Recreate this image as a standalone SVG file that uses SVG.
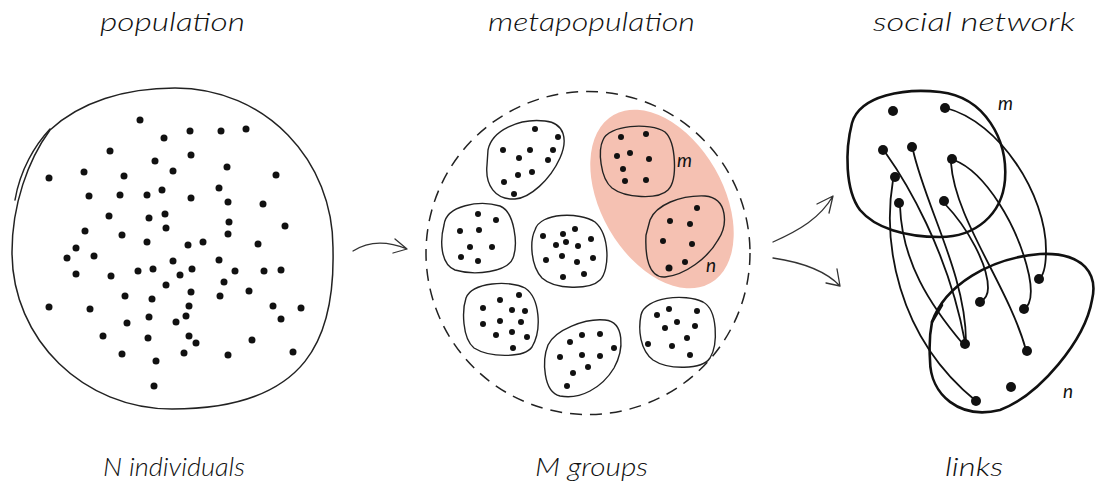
<svg xmlns="http://www.w3.org/2000/svg" width="1095" height="485" viewBox="0 0 1095 485">
<style>
.lbl{font-family:"Lato","Liberation Sans","DejaVu Sans",sans-serif;font-style:italic;font-weight:300;font-size:26px;fill:#111}
.sm{font-family:"Lato","Liberation Sans","DejaVu Sans",sans-serif;font-style:italic;font-weight:400;font-size:19px;fill:#111}
.pd circle{fill:#111}
.gd circle{fill:#111}
.nd circle{fill:#111}
.outline{fill:none;stroke:#222;stroke-width:1.5;stroke-linecap:round;stroke-linejoin:round}
.grp{fill:none;stroke:#222;stroke-width:1.4;stroke-linecap:round}
.net{fill:none;stroke:#111;stroke-width:2.6;stroke-linecap:round}
.link{fill:none;stroke:#111;stroke-width:1.8;stroke-linecap:round}
.arr{fill:none;stroke:#333;stroke-width:1.3;stroke-linecap:round;stroke-linejoin:round}
</style>
<rect width="1095" height="485" fill="#fff"/>

<g id="titles">
<text class="lbl" x="100" y="31" textLength="145" lengthAdjust="spacingAndGlyphs">population</text>
<text class="lbl" x="488" y="31" textLength="207" lengthAdjust="spacingAndGlyphs">metapopulation</text>
<text class="lbl" x="873" y="31" textLength="202" lengthAdjust="spacingAndGlyphs">social network</text>
<text class="lbl" x="103" y="476" textLength="142" lengthAdjust="spacingAndGlyphs">N individuals</text>
<text class="lbl" x="535" y="476" textLength="113" lengthAdjust="spacingAndGlyphs">M groups</text>
<text class="lbl" x="945" y="476" textLength="58" lengthAdjust="spacingAndGlyphs">links</text>
</g>

<g id="population">
<path class="outline" d="M50,130 C80,102 125,88 175,88 C265,88 334,160 333,250 C335,335 310,409 172,409 C84,409 12,340 12,252 C12,205 28,160 50,130"/>
<path class="outline" d="M15,200 C20,170 35,145 50,129"/>
<g class="pd">
<circle cx="140" cy="120" r="3.5"/><circle cx="164" cy="138" r="3.5"/><circle cx="190" cy="131" r="3.5"/><circle cx="221" cy="131" r="3.5"/><circle cx="246" cy="129" r="3.5"/>
<circle cx="110" cy="151" r="3.5"/><circle cx="155" cy="161" r="3.5"/><circle cx="191" cy="155" r="3.5"/><circle cx="49" cy="178" r="3.5"/><circle cx="84" cy="172" r="3.5"/>
<circle cx="124" cy="176" r="3.5"/><circle cx="173" cy="171" r="3.5"/><circle cx="227" cy="167" r="3.5"/><circle cx="276" cy="175" r="3.5"/><circle cx="89" cy="196" r="3.5"/>
<circle cx="120" cy="195" r="3.5"/><circle cx="147" cy="195" r="3.5"/><circle cx="162" cy="190" r="3.5"/><circle cx="191" cy="198" r="3.5"/><circle cx="219" cy="188" r="3.5"/>
<circle cx="228" cy="202" r="3.5"/><circle cx="263" cy="204" r="3.5"/><circle cx="109" cy="216" r="3.5"/><circle cx="149" cy="218" r="3.5"/><circle cx="165" cy="214" r="3.5"/>
<circle cx="85" cy="231" r="3.5"/><circle cx="122" cy="235" r="3.5"/><circle cx="166" cy="228" r="3.5"/><circle cx="229" cy="222" r="3.5"/><circle cx="285" cy="226" r="3.5"/>
<circle cx="228" cy="234" r="3.5"/><circle cx="76" cy="248" r="3.5"/><circle cx="67" cy="258" r="3.5"/><circle cx="94" cy="256" r="3.5"/><circle cx="147" cy="242" r="3.5"/>
<circle cx="188" cy="245" r="3.5"/><circle cx="203" cy="242" r="3.5"/><circle cx="258" cy="244" r="3.5"/><circle cx="76" cy="274" r="3.5"/><circle cx="111" cy="276" r="3.5"/>
<circle cx="138" cy="271" r="3.5"/><circle cx="153" cy="269" r="3.5"/><circle cx="173" cy="261" r="3.5"/><circle cx="180" cy="275" r="3.5"/><circle cx="192" cy="269" r="3.5"/>
<circle cx="219" cy="260" r="3.5"/><circle cx="235" cy="271" r="3.5"/><circle cx="264" cy="271" r="3.5"/><circle cx="281" cy="270" r="3.5"/><circle cx="166" cy="285" r="3.5"/>
<circle cx="224" cy="282" r="3.5"/><circle cx="125" cy="296" r="3.5"/><circle cx="152" cy="299" r="3.5"/><circle cx="191" cy="292" r="3.5"/><circle cx="220" cy="296" r="3.5"/>
<circle cx="249" cy="291" r="3.5"/><circle cx="49" cy="307" r="3.5"/><circle cx="90" cy="309" r="3.5"/><circle cx="189" cy="306" r="3.5"/><circle cx="273" cy="306" r="3.5"/>
<circle cx="301" cy="308" r="3.5"/><circle cx="281" cy="319" r="3.5"/><circle cx="127" cy="323" r="3.5"/><circle cx="149" cy="317" r="3.5"/><circle cx="176" cy="322" r="3.5"/>
<circle cx="186" cy="316" r="3.5"/><circle cx="103" cy="336" r="3.5"/><circle cx="148" cy="338" r="3.5"/><circle cx="189" cy="336" r="3.5"/><circle cx="196" cy="343" r="3.5"/>
<circle cx="252" cy="340" r="3.5"/><circle cx="122" cy="354" r="3.5"/><circle cx="156" cy="361" r="3.5"/><circle cx="184" cy="353" r="3.5"/><circle cx="228" cy="355" r="3.5"/>
<circle cx="293" cy="352" r="3.5"/><circle cx="154" cy="386" r="3.5"/>
</g>
</g>

<g id="metapopulation">
<ellipse cx="588" cy="253" rx="162" ry="161.5" fill="none" stroke="#222" stroke-width="1.5" stroke-dasharray="12 8"/>
<ellipse id="highlight" cx="662" cy="199" rx="97" ry="61" transform="rotate(60 662 199)" fill="#f5c1b2"/>
<g id="group1">
<path class="grp" d="M488,150 C492,130 520,118 545,121 C565,123 568,140 560,158 C550,180 530,198 515,199 C495,200 485,185 487,165 Z"/>
<g class="gd"><circle cx="535" cy="129" r="3"/><circle cx="558" cy="137" r="3"/><circle cx="503" cy="150" r="3"/><circle cx="530" cy="150" r="3"/><circle cx="553" cy="150" r="3"/><circle cx="519" cy="158" r="3"/><circle cx="548" cy="160" r="3"/><circle cx="518" cy="175" r="3"/><circle cx="532" cy="172" r="3"/><circle cx="504" cy="182" r="3"/><circle cx="514" cy="194" r="3"/></g>
</g>
<g id="group-m">
<path class="grp" d="M603,140 C608,125 650,122 665,132 C676,142 678,180 668,190 C658,200 625,198 612,188 C600,178 598,150 603,140 Z"/>
<g class="gd"><circle cx="621" cy="137" r="3"/><circle cx="646" cy="134" r="3"/><circle cx="617" cy="156" r="3"/><circle cx="630" cy="153" r="3"/><circle cx="649" cy="159" r="3"/><circle cx="623" cy="169" r="3"/><circle cx="625" cy="181" r="3"/><circle cx="646" cy="180" r="3"/></g>
<text class="sm" x="677" y="167">m</text>
</g>
<g id="group-n">
<path class="grp" d="M650,220 C656,205 680,195 705,196 C728,198 728,225 718,240 C708,258 685,275 665,277 C648,278 645,255 646,235 Z"/>
<g class="gd"><circle cx="697" cy="208" r="3"/><circle cx="670" cy="221" r="3"/><circle cx="690" cy="224" r="3"/><circle cx="663" cy="241" r="3"/><circle cx="692" cy="244" r="3"/><circle cx="685" cy="262" r="3"/><circle cx="669" cy="268" r="3.5"/></g>
<text class="sm" x="706" y="272">n</text>
</g>
<g id="group3">
<path class="grp" d="M444,225 C446,205 480,200 500,206 C515,212 518,245 513,258 C508,272 475,276 455,270 C440,264 440,240 444,225 Z"/>
<g class="gd"><circle cx="478" cy="214" r="3"/><circle cx="496" cy="220" r="3"/><circle cx="460" cy="231" r="3"/><circle cx="479" cy="230" r="3"/><circle cx="470" cy="247" r="3"/><circle cx="492" cy="247" r="3"/><circle cx="461" cy="257" r="3"/><circle cx="478" cy="261" r="3"/></g>
</g>
<g id="group4">
<path class="grp" d="M535,230 C540,212 580,212 595,222 C610,235 610,270 600,280 C590,290 555,290 542,278 C530,265 530,240 535,230 Z"/>
<g class="gd"><circle cx="543" cy="236" r="3"/><circle cx="563" cy="234" r="3"/><circle cx="575" cy="229" r="3"/><circle cx="591" cy="239" r="3"/><circle cx="556" cy="245" r="3"/><circle cx="566" cy="242" r="3"/><circle cx="578" cy="246" r="3"/><circle cx="546" cy="260" r="3"/><circle cx="562" cy="256" r="3"/><circle cx="577" cy="262" r="3"/><circle cx="593" cy="258" r="3"/><circle cx="563" cy="277" r="3"/><circle cx="584" cy="274" r="3"/></g>
</g>
<g id="group5">
<path class="grp" d="M466,298 C472,282 510,280 525,288 C540,298 542,330 532,347 C524,358 490,358 474,348 C462,338 462,310 466,298 Z"/>
<g class="gd"><circle cx="519" cy="295" r="3"/><circle cx="500" cy="300" r="3"/><circle cx="483" cy="308" r="3"/><circle cx="512" cy="310" r="3"/><circle cx="525" cy="311" r="3"/><circle cx="483" cy="324" r="3"/><circle cx="500" cy="321" r="3"/><circle cx="521" cy="322" r="3"/><circle cx="496" cy="335" r="3"/><circle cx="512" cy="332" r="3"/><circle cx="527" cy="337" r="3"/><circle cx="513" cy="348" r="3"/></g>
</g>
<g id="group6">
<path class="grp" d="M548,345 C555,330 585,318 605,320 C625,322 624,350 614,368 C602,388 580,400 560,396 C543,392 542,360 548,345 Z"/>
<g class="gd"><circle cx="582" cy="335" r="3"/><circle cx="600" cy="334" r="3"/><circle cx="570" cy="342" r="3"/><circle cx="614" cy="348" r="3"/><circle cx="560" cy="357" r="3"/><circle cx="582" cy="355" r="3"/><circle cx="600" cy="356" r="3"/><circle cx="588" cy="367" r="3"/><circle cx="573" cy="373" r="3"/><circle cx="567" cy="386" r="3"/></g>
</g>
<g id="group7">
<path class="grp" d="M641,315 C645,297 685,293 703,302 C718,310 718,345 710,358 C702,370 668,370 653,360 C640,350 638,330 641,315 Z"/>
<g class="gd"><circle cx="657" cy="315" r="3"/><circle cx="669" cy="309" r="3"/><circle cx="697" cy="311" r="3"/><circle cx="677" cy="322" r="3"/><circle cx="665" cy="328" r="3"/><circle cx="695" cy="326" r="3"/><circle cx="687" cy="338" r="3"/><circle cx="648" cy="344" r="3"/><circle cx="672" cy="346" r="3"/><circle cx="690" cy="355" r="3"/></g>
</g>
</g>

<g id="social-network">
<g id="net-m">
<path class="net" d="M852,123 C860,95 905,88 940,92 C985,97 1008,140 1005,180 C1002,215 975,237 940,237 C905,237 875,228 860,210 C845,190 845,150 852,123"/>
<text class="sm" x="998" y="110">m</text>
</g>
<g id="net-n">
<path class="net" d="M932,322 C945,285 990,258 1040,254 C1085,252 1098,275 1092,300 C1085,340 1040,395 1000,410 C960,420 930,395 930,360 C929,345 930,332 932,322"/>
<path class="net" d="M932,322 L942,305"/>
<text class="sm" x="1063" y="398">n</text>
</g>
</g>

<g id="connectors">
<path class="arr" d="M353,251 C370,240 390,242 407,249 M395,239 L407,249 L393,253"/>
<path class="arr" d="M773,242 C800,230 820,218 833,196 M817,204 L833,196 L829,213"/>
<path class="arr" d="M773,258 C800,262 825,270 840,286 M826,283 L840,286 L837,269"/>
<path class="link" d="M946,108 C1000,122 1046,195 1046,250 C1046,268 1043,276 1039,279"/>
<path class="link" d="M885,152 C905,180 948,250 965,342"/>
<path class="link" d="M913,150 C925,205 966,275 966,342"/>
<path class="link" d="M954,160 C985,172 1018,225 1029,275 C1033,295 1030,306 1023,310"/>
<path class="link" d="M951,163 C955,220 1008,285 1026,350"/>
<path class="link" d="M893,180 C883,240 895,335 976,401"/>
<path class="link" d="M900,206 C902,262 930,305 963,344"/>
<path class="link" d="M945,204 C968,228 988,265 988,288 C988,297 984,300 980,302"/>
</g>

<g id="network-dots" class="nd">
<circle cx="893" cy="111" r="5"/><circle cx="945" cy="108" r="5"/><circle cx="883" cy="150" r="5"/><circle cx="912" cy="147" r="5"/><circle cx="952" cy="159" r="5"/><circle cx="895" cy="177" r="5"/><circle cx="899" cy="203" r="5"/><circle cx="944" cy="201" r="5"/>
<circle cx="1039" cy="279" r="5"/><circle cx="980" cy="302" r="5"/><circle cx="1024" cy="309" r="5"/><circle cx="965" cy="344" r="5"/><circle cx="1027" cy="351" r="5"/><circle cx="1011" cy="387" r="5"/><circle cx="976" cy="401" r="5"/>
</g>
</svg>
